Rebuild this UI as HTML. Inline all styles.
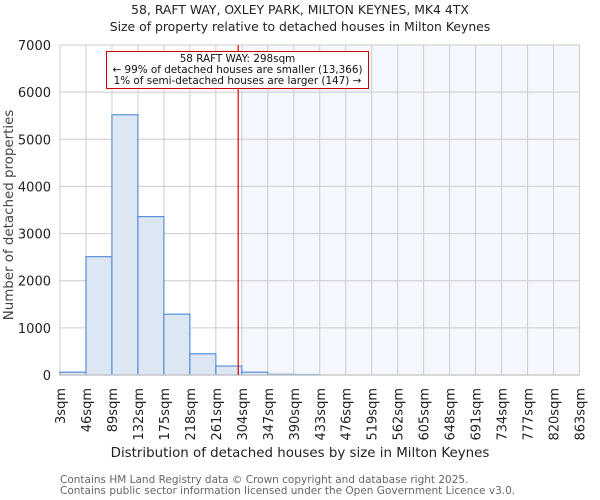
<!DOCTYPE html>
<html><head><meta charset="utf-8"><style>
body{margin:0;background:#fff}
svg{display:block;font-family:"DejaVu Sans","Liberation Sans",sans-serif}
</style></head><body>
<svg id="chart" width="600" height="500">
<text x="300" y="14" text-anchor="middle" font-size="12.4" fill="#222">58, RAFT WAY, OXLEY PARK, MILTON KEYNES, MK4 4TX</text>
<text x="300" y="31" text-anchor="middle" font-size="12.4" fill="#222">Size of property relative to detached houses in Milton Keynes</text>
<g id="plot"></g>
<text x="300" y="457" text-anchor="middle" font-size="13.4" fill="#222">Distribution of detached houses by size in Milton Keynes</text>
<text transform="translate(13,215) rotate(-90)" text-anchor="middle" font-size="13.4" fill="#444">Number of detached properties</text>
<text x="60" y="483" font-size="10.5" fill="#666">Contains HM Land Registry data © Crown copyright and database right 2025.</text>
<text x="60" y="494" font-size="10.5" fill="#666">Contains public sector information licensed under the Open Government Licence v3.0.</text>
</svg>
<script>
const binEdges=[3,46,89,132,175,218,261,304,347,390,433,476,519,562,605,648,691,734,777,820,863];
const counts=[60,2510,5520,3360,1290,450,190,60,15,10,0,0,0,0,0,0,0,0,0,0];
const yTicks=[0,1000,2000,3000,4000,5000,6000,7000];
const propertySize=298;
const annotation=["58 RAFT WAY: 298sqm","← 99% of detached houses are smaller (13,366)","1% of semi-detached houses are larger (147) →"];
const NS="http://www.w3.org/2000/svg";
const X0=60,X1=579.5,Y0=375,Y1=45,xmin=3,xmax=863,ymax=7000;
const xs=v=>X0+(v-xmin)/(xmax-xmin)*(X1-X0);
const ys=v=>Y0-v/ymax*(Y0-Y1);
const g=document.getElementById('plot');
function mk(t,a){const e=document.createElementNS(NS,t);for(const k in a)e.setAttribute(k,a[k]);g.appendChild(e);return e;}
let r=mk('rect',{x:xs(binEdges[7]),y:Y1,width:X1-xs(binEdges[7]),height:Y0-Y1,fill:'#f4f7fd'});


binEdges.forEach(v=>{const l=mk('line',{x1:xs(v),x2:xs(v),y1:Y1,y2:Y0,stroke:'#ccc','stroke-width':1});

});
yTicks.forEach(v=>{const l=mk('line',{x1:X0,x2:X1,y1:ys(v),y2:ys(v),stroke:'#ccc','stroke-width':1});


const t=mk('text',{x:X0-9,y:ys(v)+5,'text-anchor':'end','font-size':13,fill:'#222'});t.textContent=v;

});
counts.forEach((c,i)=>{if(c<=0)return;const b=mk('rect',{x:xs(binEdges[i]),y:ys(c),width:xs(binEdges[i+1])-xs(binEdges[i]),height:Y0-ys(c),fill:'#dde6f3',stroke:'#5b8fd6','stroke-width':1.2});

});
binEdges.forEach(v=>{const t=mk('text',{transform:`translate(${xs(v)+5},388) rotate(-90)`,'text-anchor':'end','font-size':13,fill:'#222'});t.textContent=v+'sqm';

});
const ax=mk('line',{x1:X0,x2:X1,y1:Y0,y2:Y0,stroke:'#ccc','stroke-width':1.5});


const pl=mk('line',{x1:xs(propertySize),x2:xs(propertySize),y1:Y1,y2:Y0,stroke:'#d00','stroke-width':1.2});


const box=mk('rect',{x:106.5,y:51.5,width:262,height:37,fill:'#fff',stroke:'#c00','stroke-width':1});


annotation.forEach((s,i)=>{const t=mk('text',{x:237.5,y:62+i*11,'text-anchor':'middle','font-size':10.4,fill:'#111'});t.textContent=s;

});
</script>
</body></html>
